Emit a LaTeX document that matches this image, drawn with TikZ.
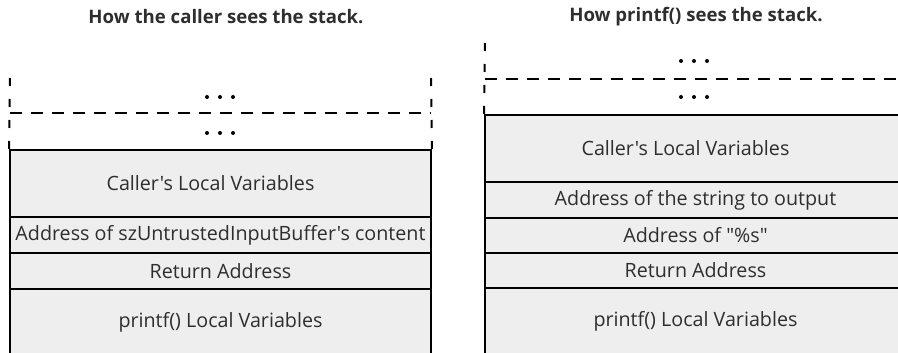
\documentclass[tikz,border=0pt]{standalone}
\usepackage{fontspec}
\setmainfont{Open Sans}[Ligatures=TeXOff]
\definecolor{cellgray}{HTML}{EEEEEE}
\definecolor{inktext}{HTML}{2E2E2E}
\tikzset{
  cell/.style={rectangle, draw=black, line width=2pt, fill=cellgray,
    minimum width=421pt, inner sep=0pt, text=inktext,
    font=\fontsize{19.7}{22}\selectfont},
  title/.style={text=inktext, inner sep=0pt,
    font=\fontsize{18.6}{21}\selectfont\bfseries},
  hdash/.style={line width=2pt, dash pattern=on 12pt off 9pt},
  vdash/.style={line width=2pt, dash pattern=on 8pt off 13pt},
  dot/.style={fill=black}
}
\begin{document}
\begin{tikzpicture}[x=1pt,y=-1pt]
\useasboundingbox (0,0) rectangle (898,353);
\clip (0,0) rectangle (898,353);

% headings
\node[title] (ltitle) at (226,17) {How the caller sees the stack.};
\node[title] (rtitle) at (696,17) {How printf() sees the stack.};

% ---- caller's view ----
\coordinate (lTL) at (10,78);
\coordinate (lTR) at (431,78);
\coordinate (lML) at (10,113);
\coordinate (lMR) at (431,113);
\node[cell, minimum height=67pt] (lcaller) at (220.5,183.5)
  {Caller's Local Variables\hspace*{20pt}};
\node[cell, minimum height=36pt] (laddr) at (220.5,235)
  {Address of szUntrustedInputBuffer's content};
\node[cell, minimum height=36pt] (lret) at (220.5,271)
  {Return Address};
\node[cell, minimum height=66pt] (lprintf) at (220.5,322)
  {printf() Local Variables};
\draw[vdash] (lTL) -- (lcaller.north west);
\draw[vdash] (lTR) -- (lcaller.north east);
\draw[hdash] (lML) -- (lMR);
\foreach \x in {207,220,233} {
  \fill[dot] (\x,97) circle (2pt);
  \fill[dot] (\x,133) circle (2pt);
}

% ---- printf's view ----
\coordinate (rTL) at (485,43);
\coordinate (rTR) at (905,43);
\coordinate (rML) at (485,79);
\coordinate (rMR) at (905,79);
\node[cell, minimum height=67pt] (rcaller) at (695.5,148.5)
  {Caller's Local Variables\hspace*{20pt}};
\node[cell, minimum height=36pt] (rstr) at (695.5,200)
  {Address of the string to output};
\node[cell, minimum height=35pt] (rfmt) at (695.5,235.5)
  {Address of "\%s"};
\node[cell, minimum height=35pt] (rret) at (695.5,270.5)
  {Return Address};
\node[cell, minimum height=67pt] (rprintf) at (695.5,321.5)
  {printf() Local Variables};
\draw[vdash] (rTL) -- (rcaller.north west);
\draw[vdash] (rTR) -- (rcaller.north east);
\draw[hdash] (rML) -- (rMR);
\foreach \x in {681,694,707} {
  \fill[dot] (\x,61) circle (2pt);
  \fill[dot] (\x,97) circle (2pt);
}
\end{tikzpicture}
\end{document}
